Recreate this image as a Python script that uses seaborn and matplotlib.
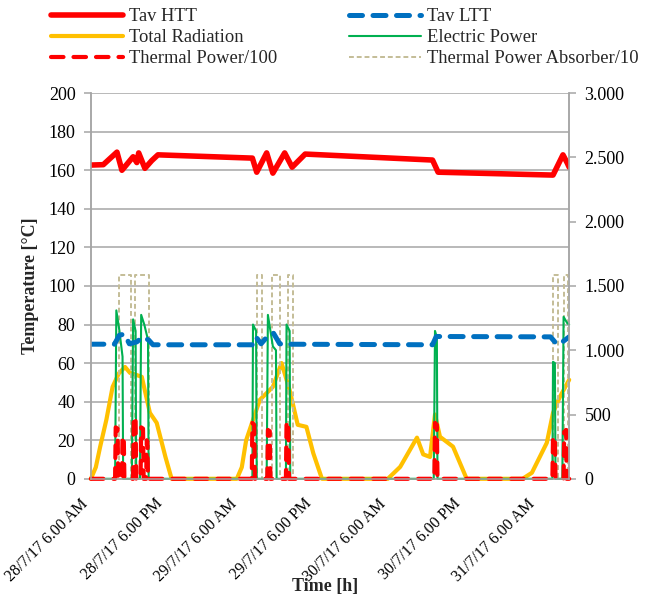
import numpy as np
import pandas as pd
import matplotlib
matplotlib.use("Agg")
import matplotlib.pyplot as plt
from matplotlib.ticker import FuncFormatter
from matplotlib.transforms import ScaledTranslation
import seaborn as sns

# hours after 28/7/17 6.00 AM
htt_h = [0, 2, 4.2, 5.0, 6.8, 7.4, 7.7, 8.7, 9.8, 10.8, 26.0, 26.7, 28.3, 29.3, 31.2, 32.4, 34.5, 55.0, 55.9, 74.4, 76.0, 76.7, 77.0]
tav_htt = [162.7, 162.9, 169.4, 160, 167, 164, 169, 161, 165, 168, 166.3, 159, 169, 158.5, 169, 161.6, 168.4, 165.3, 159, 157.5, 168, 163.7, 161.6]

ltt_h = [0, 3.8, 4.6, 5.4, 6.2, 7.4, 8.3, 9.3, 10.0, 26.0, 26.6, 27.4, 28.6, 29.4, 30.4, 31.0, 55.0, 55.6, 74.0, 75.0, 75.5, 77.0]
tav_ltt = [69.8, 69.8, 74.5, 75, 70, 71, 73.5, 72, 69.5, 69.5, 73.5, 70, 74.5, 75.5, 70, 69.8, 69.5, 73.8, 73.6, 69.8, 70, 73.6]

rad_h = [0, 0.8, 1.5, 2.5, 3.5, 4.5, 5.5, 6.3, 7.2, 8.2, 9.5, 10.6, 12.0, 13.0,
         23.5, 24.3, 25.0, 27.2, 29.3, 30.7, 32.0, 33.3, 34.7, 35.8, 37.2,
         47.8, 49.8, 52.5, 53.5, 54.6, 55.4, 56.2, 58.3, 60.5,
         69.5, 71.0, 73.4, 74.4, 75.5, 77.0]
radiation = [0, 90, 250, 460, 715, 820, 870, 824, 810, 793, 513, 435, 171, 0,
             0, 90, 300, 614, 715, 900, 690, 420, 404, 200, 0,
             0, 93, 320, 190, 170, 500, 327, 250, 0,
             0, 47, 280, 513, 637, 770]

el_h = [0, 3.9, 4.1, 4.6, 5.1, 5.2, 6.6, 6.8, 7.2, 7.3, 7.9, 8.1, 8.6, 9.2, 9.3,
        26.0, 26.1, 26.6, 26.7, 28.3, 28.5, 29.3, 29.8, 29.9, 31.4, 31.5, 32.0, 32.1,
        55.2, 55.4, 55.7, 55.8, 74.3, 74.4, 74.7, 74.8, 75.9, 76.1, 76.7, 77.0]
electric = [0, 0, 1310, 1150, 950, 0, 0, 1240, 1150, 0, 0, 1275, 1200, 1080, 0,
            0, 1200, 1150, 0, 0, 1275, 1030, 1000, 0, 0, 1200, 1150, 0,
            0, 1150, 1100, 0, 0, 910, 900, 0, 0, 1260, 1210, 1200]

th_h = [0, 3.9, 4.0, 4.3, 4.4, 5.0, 5.1, 5.3, 5.4, 6.8, 6.9, 7.2, 7.3, 8.0, 8.1, 8.4, 8.5, 8.9, 9.0, 9.1, 9.2,
        25.9, 26.0, 26.3, 26.4, 28.4, 28.5, 28.8, 28.9, 31.4, 31.5, 31.8, 31.9,
        55.3, 55.4, 55.7, 55.8, 74.3, 74.4, 74.7, 74.8, 76.1, 76.2, 76.5, 76.6, 77.0]
thermal = [0, 0, 400, 390, 0, 0, 330, 320, 0, 0, 480, 470, 0, 0, 400, 390, 0, 0, 300, 290, 0,
           0, 435, 420, 0, 0, 380, 370, 0, 0, 443, 430, 0,
           0, 435, 420, 0, 0, 327, 320, 0, 0, 365, 380, 0, 0]

abs_h = [0, 4.5, 4.5, 6.4, 6.4, 7.1, 7.1, 9.3, 9.3,
         26.7, 26.7, 27.5, 27.5, 29.1, 29.1, 30.4, 30.4, 31.7, 31.7, 32.5, 32.5,
         74.4, 74.4, 75.2, 75.2, 76.2, 76.2, 76.8, 76.8, 77.0]
absorber = [0, 0, 1585, 1585, 0, 0, 1585, 1585, 0,
            0, 1585, 1585, 0, 0, 1585, 1585, 0, 0, 1585, 1585, 0,
            0, 1585, 1585, 0, 0, 1585, 1585, 0, 0]

tick_h = [0, 12, 24, 36, 48, 60, 72]
tick_labels = ["28/7/17 6.00 AM", "28/7/17 6.00 PM", "29/7/17 6.00 AM", "29/7/17 6.00 PM",
               "30/7/17 6.00 AM", "30/7/17 6.00 PM", "31/7/17 6.00 AM"]

sns.set_style("white")
plt.rcParams['font.family'] = ['Liberation Serif', 'DejaVu Serif']
plt.rcParams['font.size'] = 13

fig = plt.figure(figsize=(6.49, 5.97), dpi=100)
ax = fig.add_axes([0.140, 0.198, 0.737, 0.646])
ax2 = ax.twinx()

grid_c = "#A6A6A6"

# right axis series
sns.lineplot(x=rad_h, y=radiation, ax=ax2, estimator=None, sort=False, color="#FFC000", lw=3.0,
             solid_capstyle="round", solid_joinstyle="round", label="Total Radiation", clip_on=False)
sns.lineplot(x=abs_h, y=absorber, ax=ax2, estimator=None, sort=False, color="#C4BD97", lw=1.4,
             linestyle=(0, (2.5, 1.5)), label="Thermal Power Absorber/10", clip_on=False)
sns.lineplot(x=el_h, y=electric, ax=ax2, estimator=None, sort=False, color="#00B050", lw=1.5,
             label="Electric Power", clip_on=False)
sns.lineplot(x=th_h, y=thermal, ax=ax2, estimator=None, sort=False, color="#FF0000", lw=3.0,
             linestyle=(0, (3.0, 2.4)), dash_capstyle="round", label="Thermal Power/100",
             clip_on=False)
# temperatures (left axis scale) drawn on top
sns.lineplot(x=ltt_h, y=tav_ltt, ax=ax2, estimator=None, sort=False, color="#0070C0", lw=3.6,
             linestyle=(0, (2.6, 2.1)), dash_capstyle="round", label="Tav LTT",
             transform=ax.transData)
sns.lineplot(x=htt_h, y=tav_htt, ax=ax2, estimator=None, sort=False, color="#FF0000", lw=4.0,
             solid_capstyle="round", solid_joinstyle="round", label="Tav HTT",
             transform=ax.transData)

ax.set_xlim(0, 77)
ax.set_ylim(0, 200)
ax2.set_ylim(0, 3000)
ax.set_yticks(np.arange(0, 201, 20))
ax2.set_yticks(np.arange(0, 3001, 500))
ax2.yaxis.set_major_formatter(FuncFormatter(lambda v, p: f"{int(v):,}".replace(",", ".")))
ax.set_xticks(tick_h)
ax2.set_xlim(0, 77)

ax.yaxis.grid(True, color=grid_c, lw=1.1)
ax.set_axisbelow(True)
for a in (ax, ax2):
    for s in a.spines.values():
        s.set_color(grid_c)
        s.set_linewidth(1.1)
    a.tick_params(colors=grid_c, labelcolor="black", length=5, width=1.1, labelsize=13)
ax.tick_params(axis="y", pad=6)
ax2.tick_params(axis="y", pad=6)
ax2.spines["top"].set_visible(False)
ax.spines["top"].set_visible(False)

ax.set_xticklabels(tick_labels, rotation=45, ha="right", rotation_mode="anchor", fontsize=11.5)
shift = ScaledTranslation(-11 / 100, -5 / 100, fig.dpi_scale_trans)
for lab in ax.get_xticklabels():
    lab.set_transform(lab.get_transform() + shift)

ax.set_ylabel("Temperature [°C]", fontweight="bold", fontsize=13)
ax.yaxis.set_label_coords(-0.108, 0.5)
ax.set_xlabel("Time [h]", fontweight="bold", fontsize=13)
ax.xaxis.set_label_coords(0.49, -0.258)
ax2.set_ylabel("")

ax2.get_legend().remove()
hd = {l.get_label(): l for l in ax2.lines}
order = ["Tav HTT", "Total Radiation", "Thermal Power/100", "Tav LTT", "Electric Power",
         "Thermal Power Absorber/10"]
fig.legend([hd[k] for k in order], order, ncol=2, loc="upper left", bbox_to_anchor=(0.059, 1.008),
           frameon=False, fontsize=13.3, handlelength=3.9, handletextpad=0.3, columnspacing=3.9,
           labelspacing=0.22, borderpad=0.2)

fig.savefig("out.png", dpi=100)
